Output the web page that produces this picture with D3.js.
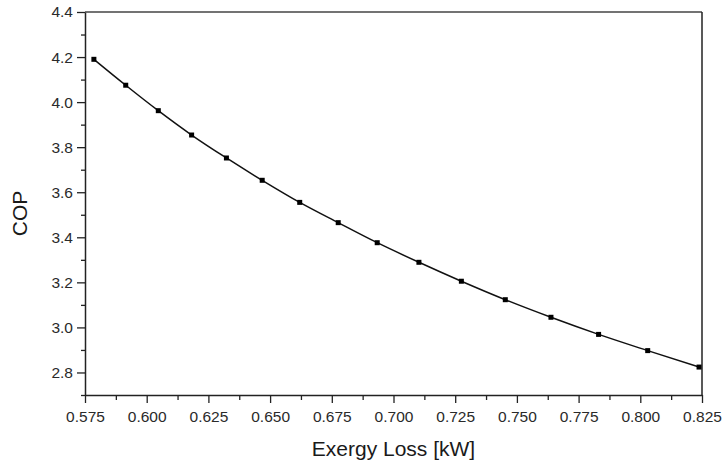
<!DOCTYPE html>
<html>
<head>
<meta charset="utf-8">
<script src="https://cdn.jsdelivr.net/npm/d3@7"></script>
<style>
  body { margin: 0; background: #fff; }
  svg { display: block; }
</style>
</head>
<body>
<div id="chart"></div>
<script>
/* ------------------------- Data ------------------------- */
var exergyLoss = [0.5786, 0.5915, 0.6047, 0.6182, 0.6323, 0.6468, 0.6620, 0.6776,
                  0.6934, 0.7103, 0.7275, 0.7453, 0.7638, 0.7831, 0.8030, 0.8238];
var cop = [4.190, 4.075, 3.962, 3.854, 3.752, 3.653, 3.555, 3.465,
           3.376, 3.289, 3.205, 3.123, 3.045, 2.969, 2.897, 2.824];
var xTicks = [0.575, 0.600, 0.625, 0.650, 0.675, 0.700, 0.725, 0.750, 0.775, 0.800, 0.825];
var yTicks = [2.8, 3.0, 3.2, 3.4, 3.6, 3.8, 4.0, 4.2, 4.4];
var xTitle = "Exergy Loss [kW]",
    yTitle = "COP";

var data = exergyLoss.map(function(d, i) { return {x: d, y: cop[i]}; });

/* ------------------------- Layout ------------------------- */
var W = 727, H = 464,
    margin = {top: 12, right: 25, bottom: 69, left: 85},
    width = W - margin.left - margin.right,
    height = H - margin.top - margin.bottom,
    fontFamily = "'Liberation Sans', Arial, sans-serif";

var x = d3.scaleLinear().domain([0.575, 0.825]).range([0, width]);
var y = d3.scaleLinear().domain([2.7, 4.4]).range([height, 0]);

/* minor ticks halfway between majors */
var xMinor = xTicks.slice(0, -1).map(function(d) { return d + 0.0125; });
var yMinor = [2.7].concat(yTicks.map(function(d) { return d + 0.1; })).filter(function(d) { return d < 4.4; });

var svg = d3.select("#chart").append("svg")
    .attr("width", W)
    .attr("height", H);

var chart = svg.append("g")
    .attr("transform", "translate(" + margin.left + "," + margin.top + ")");

/* Frame (top and right) */
chart.append("line")
    .attr("x1", 0).attr("x2", width).attr("y1", 0).attr("y2", 0)
    .attr("stroke", "#444").attr("stroke-width", 1.5);
chart.append("line")
    .attr("x1", width).attr("x2", width).attr("y1", 0).attr("y2", height)
    .attr("stroke", "#222").attr("stroke-width", 1.5);

/* Minor ticks */
chart.append("g")
    .attr("transform", "translate(0," + height + ")")
    .call(d3.axisBottom(x).tickValues(xMinor).tickSize(5).tickFormat(""))
    .call(function(g) { g.select(".domain").remove(); })
    .selectAll("line").attr("stroke", "#222").attr("stroke-width", 1.3);

chart.append("g")
    .call(d3.axisLeft(y).tickValues(yMinor).tickSize(4).tickFormat(""))
    .call(function(g) { g.select(".domain").remove(); })
    .selectAll("line").attr("stroke", "#222").attr("stroke-width", 1.3);

/* Major axes */
var xAxis = chart.append("g")
    .attr("transform", "translate(0," + height + ")")
    .call(d3.axisBottom(x).tickValues(xTicks).tickSize(8).tickSizeOuter(0).tickPadding(8)
        .tickFormat(d3.format(".3f")));

var yAxis = chart.append("g")
    .call(d3.axisLeft(y).tickValues(yTicks).tickSize(8).tickSizeOuter(0).tickPadding(4)
        .tickFormat(d3.format(".1f")));

[xAxis, yAxis].forEach(function(a) {
    a.select(".domain").attr("stroke", "#222").attr("stroke-width", 1.5);
    a.selectAll(".tick line").attr("stroke", "#222").attr("stroke-width", 1.3);
    a.selectAll(".tick text")
        .attr("font-family", fontFamily)
        .attr("font-size", 15.5)
        .attr("fill", "#2a2a2a");
});

/* Curve and markers */
var line = d3.line()
    .x(function(d) { return x(d.x); })
    .y(function(d) { return y(d.y); })
    .curve(d3.curveMonotoneX);

chart.append("path")
    .datum(data)
    .attr("fill", "none")
    .attr("stroke", "#111")
    .attr("stroke-width", 1.5)
    .attr("d", line);

var sq = 5;
chart.selectAll(".pt")
    .data(data)
    .enter().append("rect")
    .attr("class", "pt")
    .attr("x", function(d) { return x(d.x) - sq / 2; })
    .attr("y", function(d) { return y(d.y) - sq / 2; })
    .attr("width", sq)
    .attr("height", sq)
    .attr("fill", "#000");

/* Axis titles */
chart.append("text")
    .attr("x", width / 2)
    .attr("y", height + 61)
    .attr("text-anchor", "middle")
    .attr("font-family", fontFamily)
    .attr("font-size", 21)
    .attr("fill", "#1a1a1a")
    .text(xTitle);

chart.append("text")
    .attr("transform", "translate(" + (20 - margin.left + 7) + "," + (height / 2 + 10) + ")rotate(-90)")
    .attr("text-anchor", "middle")
    .attr("font-family", fontFamily)
    .attr("font-size", 21)
    .attr("fill", "#1a1a1a")
    .text(yTitle);
</script>
</body>
</html>
